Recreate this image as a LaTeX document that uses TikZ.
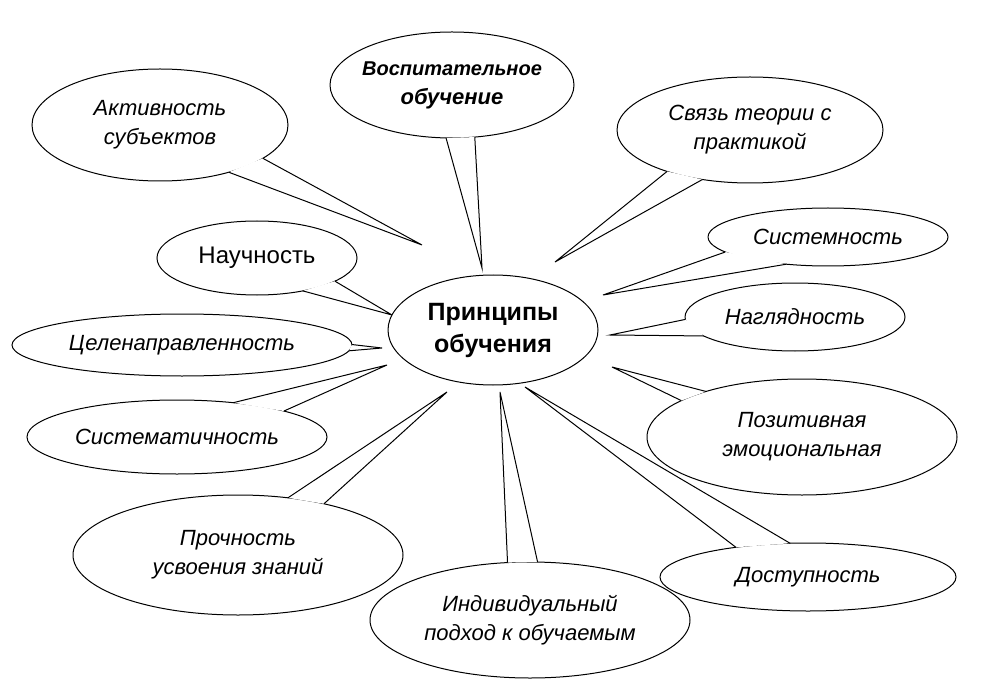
\documentclass[tikz,border=0pt]{standalone}
\usepackage{fontspec}
\setmainfont{Liberation Sans}
\usetikzlibrary{calc,intersections}
\tikzset{txt/.style={font=\itshape\fontsize{22}{29}\selectfont,align=center},
 line/.style={line width=1pt,black}}
\newcommand\bub[7]{%
 \coordinate (c) at (#1,#2); \coordinate (t) at (#5,#6);
 \coordinate (b1) at ($(c)!20pt!90:(t)$);
 \coordinate (b2) at ($(c)!20pt!-90:(t)$);
 \path[name path=E] (c) ellipse ({#3} and {#4});
 \path[name path=La] (b1)--(t);
 \path[name path=Lb] (b2)--(t);
 \path[name intersections={of=E and La,by=p1}];
 \path[name intersections={of=E and Lb,by=p2}];
 \filldraw[line,fill=white] (c) ellipse ({#3} and {#4});
 \fill[white] (p1)--(t)--(p2)--cycle;
 \draw[line] (p1)--(t)--(p2);
 \node[txt] at (c) {#7};}
\begin{document}
\begin{tikzpicture}[x=1pt,y=-1pt]
\useasboundingbox[fill=white] (0,0) rectangle (981,700);
\bub{452}{85}{122}{53}{482}{268}{\fontsize{20}{27}\selectfont\textbf{Воспитательное}\\\textbf{обучение}}
\bub{160}{125}{128}{56}{422}{245}{Активность\\субъектов}
\bub{750}{130}{133}{53}{555}{262}{Связь теории с\\практикой}
\bub{828}{237}{120}{29}{603}{295}{Системность}
\bub{257}{258}{100}{37}{392}{315}{\upshape\fontsize{24}{29}\selectfont Научность}
\bub{795}{317}{110}{34}{610}{335}{Наглядность}
\bub{182}{345}{170}{31}{382}{348}{Целенаправленность}
\bub{802}{437}{155}{58}{612}{367}{Позитивная\\эмоциональная}
\bub{177}{437}{150}{37}{387}{365}{Систематичность}
\bub{238}{555}{165}{60}{447}{392}{Прочность\\усвоения знаний}
\bub{530}{620}{160}{58}{500}{392}{Индивидуальный\\подход к обучаемым}
\bub{808}{577}{148}{34}{525}{387}{Доступность}
\filldraw[line,fill=white] (493,330) ellipse (105 and 55);
\node[font=\bfseries\fontsize{25}{32}\selectfont,align=center] (m) at (493,330) {Принципы\\обучения};
\end{tikzpicture}
\end{document}
